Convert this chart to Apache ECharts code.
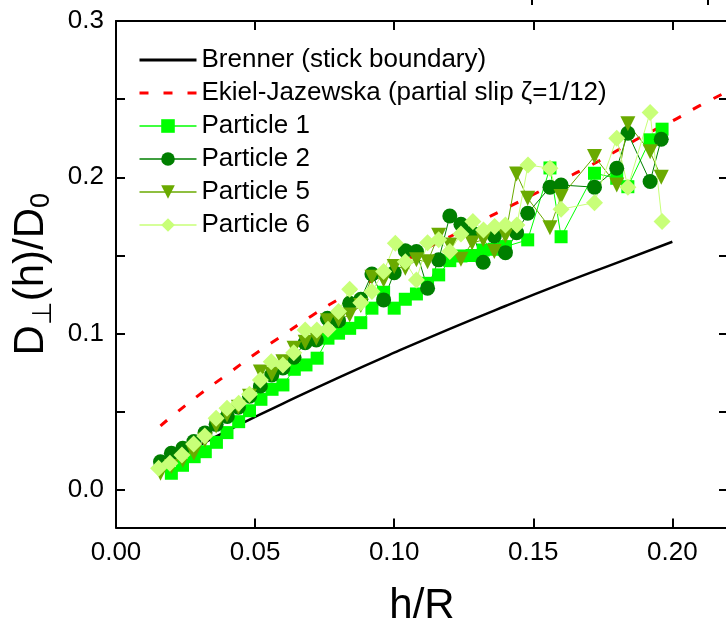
<!DOCTYPE html>
<html>
<head>
<meta charset="utf-8">
<script src="https://cdn.jsdelivr.net/npm/echarts@6/dist/echarts.min.js"></script>
<style>html,body{margin:0;padding:0;background:#fff}#c{width:726px;height:621px}</style>
</head>
<body>
<div id="c"></div>
<script>
// ---- data ----
const xTicks = [0, 0.05, 0.10, 0.15, 0.20];
const yTicks = [0, 0.05, 0.10, 0.15, 0.20, 0.25, 0.30];
const yLabels = [0, 0.1, 0.2, 0.3];

const brenner = [[0.016,0.0156],[0.02,0.0194],[0.03,0.0287],[0.04,0.0378],[0.05,0.0467],[0.06,0.0553],[0.08,0.0719],[0.10,0.0878],[0.12,0.1031],[0.14,0.1177],[0.16,0.1318],[0.18,0.1453],[0.20,0.1588]];
const ekiel = [[0.016,0.041],[0.02,0.047],[0.03,0.061],[0.04,0.074],[0.05,0.087],[0.06,0.099],[0.07,0.111],[0.08,0.122],[0.09,0.132],[0.10,0.142],[0.11,0.153],[0.12,0.162],[0.13,0.171],[0.14,0.180],[0.15,0.189],[0.16,0.198],[0.17,0.207],[0.18,0.217],[0.19,0.227],[0.20,0.236],[0.21,0.246],[0.22,0.255]];

const p1 = [[0.0199,0.0107],[0.0239,0.0158],[0.0281,0.0213],[0.0321,0.0245],[0.0361,0.0305],[0.0399,0.0367],[0.0441,0.0437],[0.0480,0.0507],[0.0521,0.0580],[0.0561,0.0644],[0.0600,0.0672],[0.0641,0.0772],[0.0683,0.0800],[0.0723,0.0843],[0.0762,0.0971],[0.0800,0.1003],[0.0840,0.1034],[0.0880,0.1070],[0.0920,0.1163],[0.0962,0.1265],[0.1000,0.1163],[0.1040,0.1220],[0.1080,0.1254],[0.1120,0.1322],[0.1160,0.1376],[0.1200,0.1467],[0.1240,0.1497],[0.1280,0.1500],[0.1320,0.1535],[0.1360,0.1540],[0.1400,0.1557],[0.1480,0.1600],[0.1560,0.2060],[0.1600,0.1620],[0.1720,0.2026],[0.1800,0.1994],[0.1840,0.1940],[0.1920,0.2240],[0.1963,0.2308]];

const p2 = [[0.0160,0.0181],[0.0199,0.0235],[0.0240,0.0267],[0.0280,0.0310],[0.0320,0.0365],[0.0360,0.0420],[0.0400,0.0470],[0.0440,0.0530],[0.0480,0.0600],[0.0519,0.0665],[0.0560,0.0736],[0.0600,0.0780],[0.0640,0.0849],[0.0680,0.0942],[0.0720,0.0960],[0.0760,0.1098],[0.0800,0.1083],[0.0840,0.1194],[0.0880,0.1220],[0.0920,0.1382],[0.0962,0.1216],[0.1000,0.1390],[0.1040,0.1531],[0.1080,0.1525],[0.1120,0.1290],[0.1160,0.1472],[0.1200,0.1753],[0.1240,0.1700],[0.1280,0.1646],[0.1320,0.1457],[0.1360,0.1625],[0.1400,0.1518],[0.1440,0.1646],[0.1480,0.1770],[0.1560,0.1937],[0.1600,0.1951],[0.1720,0.1937],[0.1800,0.2058],[0.1840,0.2282],[0.1920,0.1973],[0.1960,0.2244]];

const p5 = [[0.0160,0.0107],[0.0199,0.0150],[0.0240,0.0190],[0.0280,0.0235],[0.0320,0.0320],[0.0360,0.0410],[0.0399,0.0480],[0.0440,0.0530],[0.0480,0.0600],[0.0519,0.0755],[0.0560,0.0740],[0.0600,0.0820],[0.0640,0.0906],[0.0680,0.0945],[0.0720,0.0970],[0.0760,0.1083],[0.0800,0.1088],[0.0840,0.1120],[0.0880,0.1180],[0.0920,0.1361],[0.0962,0.1344],[0.1000,0.1429],[0.1040,0.1418],[0.1080,0.1472],[0.1120,0.1460],[0.1160,0.1630],[0.1200,0.1567],[0.1240,0.1476],[0.1280,0.1580],[0.1320,0.1600],[0.1360,0.1525],[0.1400,0.1625],[0.1440,0.2022],[0.1480,0.1866],[0.1560,0.1678],[0.1600,0.1877],[0.1720,0.2133],[0.1800,0.1951],[0.1840,0.2342],[0.1920,0.2164],[0.1960,0.2001]];

const p6 = [[0.0153,0.0139],[0.0194,0.0171],[0.0237,0.0224],[0.0279,0.0294],[0.0319,0.0345],[0.0360,0.0459],[0.0399,0.0523],[0.0441,0.0555],[0.0480,0.0612],[0.0519,0.0704],[0.0558,0.0821],[0.0600,0.0800],[0.0639,0.0878],[0.0680,0.1024],[0.0722,0.1024],[0.0762,0.1028],[0.0800,0.1141],[0.0840,0.1284],[0.0880,0.1198],[0.0920,0.1269],[0.0962,0.1397],[0.1004,0.1578],[0.1040,0.1460],[0.1080,0.1344],[0.1120,0.1582],[0.1160,0.1600],[0.1200,0.1525],[0.1240,0.1638],[0.1283,0.1717],[0.1321,0.1663],[0.1361,0.1685],[0.1400,0.1695],[0.1441,0.1695],[0.1481,0.2079],[0.1560,0.2058],[0.1600,0.1796],[0.1720,0.1838],[0.1800,0.2250],[0.1840,0.1937],[0.1920,0.2414],[0.1963,0.1717]];

// ---- chart ----
const chart = echarts.init(document.getElementById('c'), null, {renderer: 'canvas'});
const FONT = 'Liberation Sans, Arial, sans-serif';
const axisLineStyle = {color: '#000', width: 2};

function particle(name, data, symbol, size, color, lineColor, rotate) {
  return {
    name, type: 'line', data, symbol, symbolSize: size, symbolRotate: rotate || 0,
    showSymbol: true, showAllSymbol: true,
    itemStyle: {color: color, borderWidth: 0},
    lineStyle: {color: lineColor, width: 1},
    emphasis: {disabled: true}, animation: false, z: 3
  };
}

chart.setOption({
  animation: false,
  backgroundColor: '#fff',
  textStyle: {fontFamily: FONT},
  grid: {left: 116, right: -2, top: 21, bottom: 93.5, containLabel: false, outerBoundsMode: 'none'},
  graphic: [
    {type: 'line', shape: {x1: 532, y1: 0, x2: 532, y2: 5}, style: {stroke: '#000', lineWidth: 2}},
    {type: 'line', shape: {x1: 708, y1: 0, x2: 708, y2: 5}, style: {stroke: '#000', lineWidth: 2}}
  ],
  legend: {
    orient: 'vertical', left: 133, top: 42,
    itemWidth: 57, itemHeight: 17, itemGap: 7,
    textStyle: {fontSize: 26, color: '#000', fontFamily: FONT},
    data: [
      {name: 'Brenner (stick boundary)', itemStyle: {opacity: 0}, lineStyle: {width: 3}},
      {name: 'Ekiel-Jazewska (partial slip ζ=1/12)', itemStyle: {opacity: 0}, lineStyle: {width: 3, type: [9, 15]}},
      {name: 'Particle 1', lineStyle: {width: 1.5}},
      {name: 'Particle 2', lineStyle: {width: 1.5}},
      {name: 'Particle 5', lineStyle: {width: 1.5}},
      {name: 'Particle 6', lineStyle: {width: 1.5}}]
  },
  xAxis: [{
    type: 'value', min: 0, max: 0.22, position: 'bottom',
    axisLine: {show: true, onZero: false, lineStyle: axisLineStyle},
    axisTick: {show: true, inside: true, length: 9, lineStyle: axisLineStyle, customValues: xTicks},
    axisLabel: {show: true, customValues: xTicks, formatter: v => v.toFixed(2), fontSize: 26, color: '#000', margin: 12, fontFamily: FONT},
    splitLine: {show: false},
    name: 'h/R', nameLocation: 'middle', nameGap: 58,
    nameTextStyle: {fontSize: 42, color: '#000', fontFamily: FONT}
  }, {
    type: 'value', min: 0, max: 0.22, position: 'top',
    axisLine: {show: true, onZero: false, lineStyle: axisLineStyle},
    axisTick: {show: true, inside: true, length: 9, lineStyle: axisLineStyle, customValues: xTicks},
    axisLabel: {show: false}, splitLine: {show: false}
  }],
  yAxis: [{
    type: 'value', min: -0.024, max: 0.3, position: 'left',
    axisLine: {show: true, onZero: false, lineStyle: axisLineStyle},
    axisTick: {show: true, inside: true, length: 9, lineStyle: axisLineStyle, customValues: yTicks},
    axisLabel: {show: true, customValues: yLabels, formatter: v => v.toFixed(1), fontSize: 26, color: '#000', margin: 12, fontFamily: FONT},
    splitLine: {show: false},
    name: 'D{sub|⊥}(h)/D{sub2|0}', nameLocation: 'middle', nameGap: 58, nameRotate: 90,
    nameTextStyle: {fontSize: 42, color: '#000', fontFamily: FONT,
      rich: {sub: {fontSize: 27, color: '#000', fontFamily: FONT, padding: [24, 0, 0, 0]},
             sub2: {fontSize: 27, color: '#000', fontFamily: FONT, padding: [20, 0, 0, 0]}}}
  }, {
    type: 'value', min: -0.024, max: 0.3, position: 'right',
    axisLine: {show: true, onZero: false, lineStyle: axisLineStyle},
    axisTick: {show: true, inside: true, length: 9, lineStyle: axisLineStyle, customValues: yTicks},
    axisLabel: {show: false}, splitLine: {show: false}
  }],
  series: [
    {name: 'Brenner (stick boundary)', type: 'line', data: brenner, symbol: 'none', smooth: true,
     lineStyle: {color: '#000', width: 2.5}, itemStyle: {color: '#000'}, z: 2},
    {name: 'Ekiel-Jazewska (partial slip ζ=1/12)', type: 'line', data: ekiel, symbol: 'none', smooth: true,
     lineStyle: {color: '#ff0000', width: 3, type: [9, 14]}, itemStyle: {color: '#ff0000'}, z: 2},
    particle('Particle 1', p1, 'rect', 13, '#00ff00', '#00ff00'),
    particle('Particle 2', p2, 'circle', 15, '#007f00', '#007f00'),
    particle('Particle 5', p5, 'triangle', 15, '#6aaa00', '#6aaa00', 180),
    particle('Particle 6', p6, 'diamond', 17, '#c8ff78', '#c8ff78')
  ]
});
</script>
</body>
</html>
